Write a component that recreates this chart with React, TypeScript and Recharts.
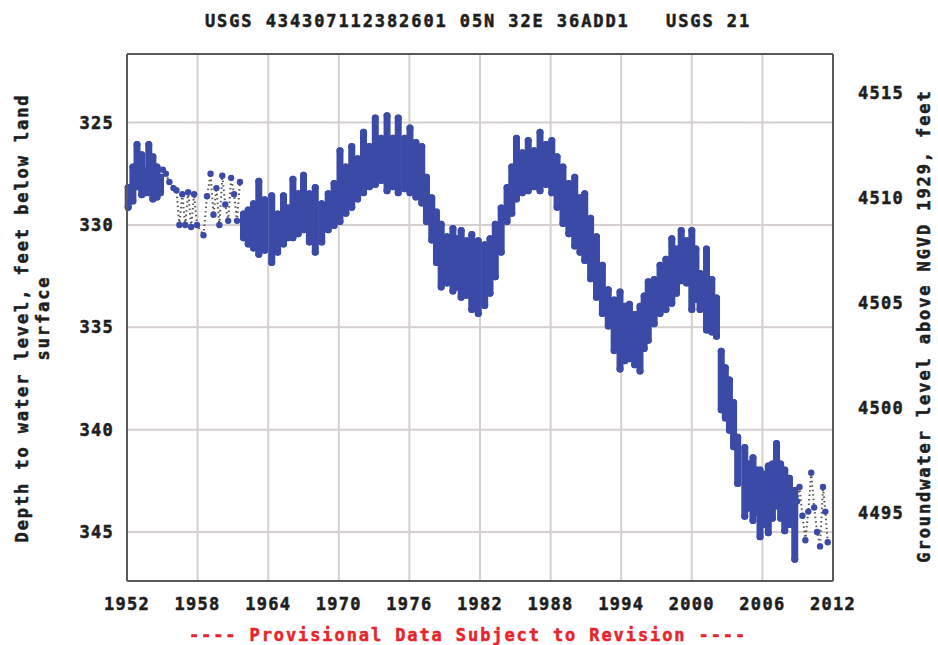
import React from 'react';
import { ScatterChart, Scatter, XAxis, YAxis, CartesianGrid, ErrorBar } from 'recharts';

const FONT = "'DejaVu Sans Mono', monospace";
const BLUE = '#3a4aa6';
const FRAME = '#5a5a5a';
const GRID = '#d6cfcf';

const xTicks = [1952, 1958, 1964, 1970, 1976, 1982, 1988, 1994, 2000, 2006, 2012];
const depthTicks = [325, 330, 335, 340, 345];
const levelTicks = [4495, 4500, 4505, 4510, 4515];

// Dense periods: seasonal streaks of readings (year, shallowest depth, deepest depth)
const streakYear = [
  1952.1, 1952.5, 1952.85, 1953.25, 1953.55, 1953.85, 1954.2, 1954.55, 1954.85,
  1961.9, 1962.3, 1962.75, 1963.2, 1963.7, 1964.3, 1964.8, 1965.3, 1965.7, 1966.1, 1966.55,
  1967.0, 1967.5, 1968.0, 1968.55, 1969.1, 1969.6, 1970.1, 1970.6, 1971.1, 1971.6, 1972.1,
  1972.6, 1973.1, 1973.6, 1974.1, 1974.6, 1975.05, 1975.6,
  1976.05, 1976.55, 1977.05, 1977.45, 1977.9, 1978.3, 1978.7, 1979.2, 1979.7, 1980.05, 1980.4,
  1980.85, 1981.3, 1981.85, 1982.4, 1982.85, 1983.3, 1983.8, 1984.3, 1984.7, 1985.1, 1985.6,
  1986.1, 1986.6, 1987.1, 1987.6, 1988.1,
  1988.55, 1989.05, 1989.55, 1990.05, 1990.5, 1990.9, 1991.4, 1991.9, 1992.4, 1992.9, 1993.4,
  1993.9, 1994.3, 1994.7, 1995.15, 1995.6, 1995.95, 1996.3, 1996.8, 1997.3, 1997.8, 1998.3,
  1998.7, 1999.1, 1999.55, 2000.0,
  2000.35, 2000.7, 2001.25, 2001.7, 2002.1, 2002.5, 2002.85, 2003.2, 2003.55, 2003.9, 2004.5,
  2004.85, 2005.2, 2005.5, 2005.8, 2006.15, 2006.5, 2006.85, 2007.2, 2007.55, 2007.9, 2008.3,
  2008.75,
];
const streakTop = [
  328.0, 327.0, 325.9, 326.4, 327.2, 325.9, 326.5, 327.0, 327.5,
  329.3, 329.1, 328.8, 327.7, 328.6, 328.4, 329.3, 328.4, 329.0, 327.6, 328.3,
  327.4, 328.3, 328.0, 328.8, 328.3, 327.8, 326.2, 327.0, 326.0, 326.6, 325.3,
  326.0, 324.6, 325.6, 324.5, 325.6, 324.6, 325.6,
  325.1, 325.8, 326.0, 327.5, 328.5, 329.2, 329.8, 330.4, 330.0, 330.5, 330.1,
  330.6, 330.3, 330.6, 330.8, 330.5, 329.8, 329.0, 328.0, 327.0, 325.6, 326.3,
  325.7, 326.2, 325.3, 325.9, 325.7,
  326.5, 327.0, 327.8, 327.5, 328.5, 328.3, 329.5, 330.4, 331.8, 333.0, 333.5,
  333.1, 333.8, 333.7, 334.2, 333.8, 333.3, 332.6, 332.5, 331.8, 331.5, 330.5,
  331.0, 330.1, 330.6, 330.1,
  331.0, 332.2, 331.0, 332.5, 333.4, 336.0, 336.8, 337.4, 338.5, 340.2, 340.7,
  341.5, 341.2, 341.8, 341.8, 342.0, 341.6, 341.5, 340.5, 341.5, 341.8, 342.2,
  342.8,
];
const streakBottom = [
  329.3, 329.0, 328.3, 328.7, 328.6, 328.6, 328.9, 328.8, 328.6,
  330.8, 331.1, 331.3, 331.6, 331.4, 332.0, 331.5, 331.1, 330.8, 330.8, 330.6,
  330.4, 331.0, 331.5, 331.0, 330.4, 330.2, 330.0, 329.6, 329.3, 328.9, 328.6,
  328.3, 328.2, 328.0, 328.5, 328.3, 328.6, 328.4,
  328.6, 328.8, 329.1, 330.0, 330.9, 332.0, 333.2, 333.0, 333.4, 333.2, 333.7,
  333.6, 334.3, 334.5, 334.1, 333.5, 332.7, 331.5, 330.0, 329.6, 328.9, 328.6,
  328.5, 328.3, 328.5, 328.2, 328.6,
  329.3, 330.1, 330.6, 331.2, 331.5, 331.9, 332.8, 333.7, 334.5, 335.1, 336.3,
  337.2, 336.8, 336.7, 337.0, 337.3, 336.2, 335.8, 335.0, 334.5, 334.3, 334.0,
  333.5, 332.9, 333.0, 334.3,
  333.8, 334.3, 335.3, 335.4, 335.6, 339.2, 339.6, 340.2, 341.0, 342.8, 344.4,
  344.0, 344.6, 344.2, 345.4, 344.8, 345.2, 344.5, 343.9, 344.5, 345.1, 344.8,
  346.5,
];

// Sparse periods: individual readings joined by a dotted trace
const sparse1Year = [
  1955.05, 1955.3, 1955.6, 1955.95, 1956.2, 1956.45, 1956.7, 1956.95, 1957.2, 1957.45, 1957.7,
  1957.95, 1958.5, 1958.8, 1959.1, 1959.35, 1959.6, 1959.85, 1960.1, 1960.35, 1960.6, 1960.85,
  1961.1, 1961.35, 1961.6,
];
const sparse1Depth = [
  327.3, 327.5, 327.9, 328.2, 328.3, 330.0, 328.5, 330.0, 328.4, 330.1, 328.5,
  330.0, 330.5, 328.6, 327.5, 329.5, 328.2, 330.0, 327.6, 329.0, 329.8, 327.7,
  328.5, 329.8, 327.9,
];
const sparse2Year = [
  2008.95, 2009.15, 2009.4, 2009.65, 2009.9, 2010.15, 2010.4, 2010.65, 2010.9, 2011.15, 2011.35, 2011.55,
];
const sparse2Depth = [
  343.5, 342.8, 344.2, 345.4, 344.0, 342.1, 343.8, 345.0, 345.7, 342.8, 344.0, 345.5,
];

// half the rounded stroke cap, in feet, so the caps end at the read values
const CAP_FT = 0.17;
const denseData = streakYear.map((x, i) => {
  const top = streakTop[i] + CAP_FT;
  const bottom = streakBottom[i] - CAP_FT;
  const mid = (top + bottom) / 2;
  return { x, y: mid, err: [mid - top, bottom - mid] };
});
const sparse1 = sparse1Year.map((x, i) => ({ x, y: sparse1Depth[i] }));
const sparse2 = sparse2Year.map((x, i) => ({ x, y: sparse2Depth[i] }));

const txt: React.CSSProperties = {
  fontFamily: FONT,
  fontWeight: 'bold',
  fontSize: 17,
  letterSpacing: 1.3,
  fill: '#1e1e1e',
  stroke: '#1e1e1e',
  strokeWidth: 0.5,
  whiteSpace: 'pre',
};

const XTick = (props: any) => {
  const { x, y, payload } = props;
  return (
    <text x={x} y={y + 29} textAnchor="middle" style={txt}>
      {payload.value}
    </text>
  );
};
const LeftTick = (props: any) => {
  const { x, y, payload } = props;
  return (
    <text x={x - 13} y={y + 6} textAnchor="end" style={txt}>
      {payload.value}
    </text>
  );
};
const RightTick = (props: any) => {
  const { x, y, payload } = props;
  return (
    <text x={x + 25} y={y + 6} textAnchor="start" style={txt}>
      {payload.value}
    </text>
  );
};

const Dot = (props: any) => {
  const { cx, cy } = props;
  return <circle cx={cx} cy={cy} r={3.2} fill={BLUE} />;
};
const NoShape = () => <g />;

export default function App() {
  return (
    <div style={{ position: 'absolute', left: 0, top: 0, width: 938, height: 645, background: '#fff' }}>
      <ScatterChart
        width={938}
        height={645}
        margin={{ top: 52, right: 35, bottom: 34, left: 67 }}
      >
        <CartesianGrid stroke={GRID} strokeWidth={2} />
        <XAxis
          type="number"
          dataKey="x"
          domain={[1952, 2012]}
          ticks={xTicks}
          allowDataOverflow
          tickLine={false}
          tickSize={0}
          tickMargin={0}
          height={30}
          axisLine={{ stroke: FRAME, strokeWidth: 2 }}
          tick={<XTick />}
        />
        <XAxis
          xAxisId="top"
          orientation="top"
          type="number"
          domain={[1952, 2012]}
          allowDataOverflow
          tick={false}
          tickLine={false}
          height={2}
          axisLine={{ stroke: FRAME, strokeWidth: 2 }}
        />
        <YAxis
          type="number"
          dataKey="y"
          reversed
          domain={[321.65, 347.39]}
          ticks={depthTicks}
          allowDataOverflow
          tickLine={false}
          tickSize={0}
          tickMargin={0}
          width={60}
          axisLine={{ stroke: FRAME, strokeWidth: 2 }}
          tick={<LeftTick />}
        />
        <YAxis
          yAxisId="right"
          orientation="right"
          type="number"
          domain={[4491.76, 4516.86]}
          ticks={levelTicks}
          allowDataOverflow
          tickLine={false}
          tickSize={0}
          tickMargin={0}
          width={70}
          axisLine={{ stroke: FRAME, strokeWidth: 2 }}
          tick={<RightTick />}
        />
        <Scatter data={denseData} shape={<NoShape />} isAnimationActive={false}>
          <ErrorBar
            dataKey="err"
            direction="y"
            width={0}
            stroke={BLUE}
            strokeWidth={7}
            strokeLinecap="round"
            isAnimationActive={false}
          />
        </Scatter>
        <Scatter
          data={sparse1}
          shape={<Dot />}
          line={{ stroke: '#555', strokeWidth: 2, strokeDasharray: '1.5 3' }}
          isAnimationActive={false}
        />
        <Scatter
          data={sparse2}
          shape={<Dot />}
          line={{ stroke: '#555', strokeWidth: 2, strokeDasharray: '1.5 3' }}
          isAnimationActive={false}
        />
      </ScatterChart>
      <svg
        width={938}
        height={645}
        style={{ position: 'absolute', left: 0, top: 0, pointerEvents: 'none' }}
      >
        <text x={478} y={27} textAnchor="middle" style={{ ...txt, letterSpacing: 1.9 }}>
          {'USGS 434307112382601 05N 32E 36ADD1   USGS 21'}
        </text>
        <text
          x={22}
          y={318}
          textAnchor="middle"
          dominantBaseline="central"
          transform="rotate(-90 22 318)"
          style={{ ...txt, letterSpacing: 1.9 }}
        >
          Depth to water level, feet below land
        </text>
        <text
          x={43}
          y={318}
          textAnchor="middle"
          dominantBaseline="central"
          transform="rotate(-90 43 318)"
          style={{ ...txt, letterSpacing: 1.9 }}
        >
          surface
        </text>
        <text
          x={924}
          y={326}
          textAnchor="middle"
          dominantBaseline="central"
          transform="rotate(-90 924 326)"
          style={{ ...txt, letterSpacing: 1.9 }}
        >
          Groundwater level above NGVD 1929, feet
        </text>
        <text
          x={468}
          y={641}
          textAnchor="middle"
          style={{ ...txt, letterSpacing: 1.9, fill: '#e5242b', stroke: '#e5242b' }}
        >
          {'---- Provisional Data Subject to Revision ----'}
        </text>
      </svg>
    </div>
  );
}
